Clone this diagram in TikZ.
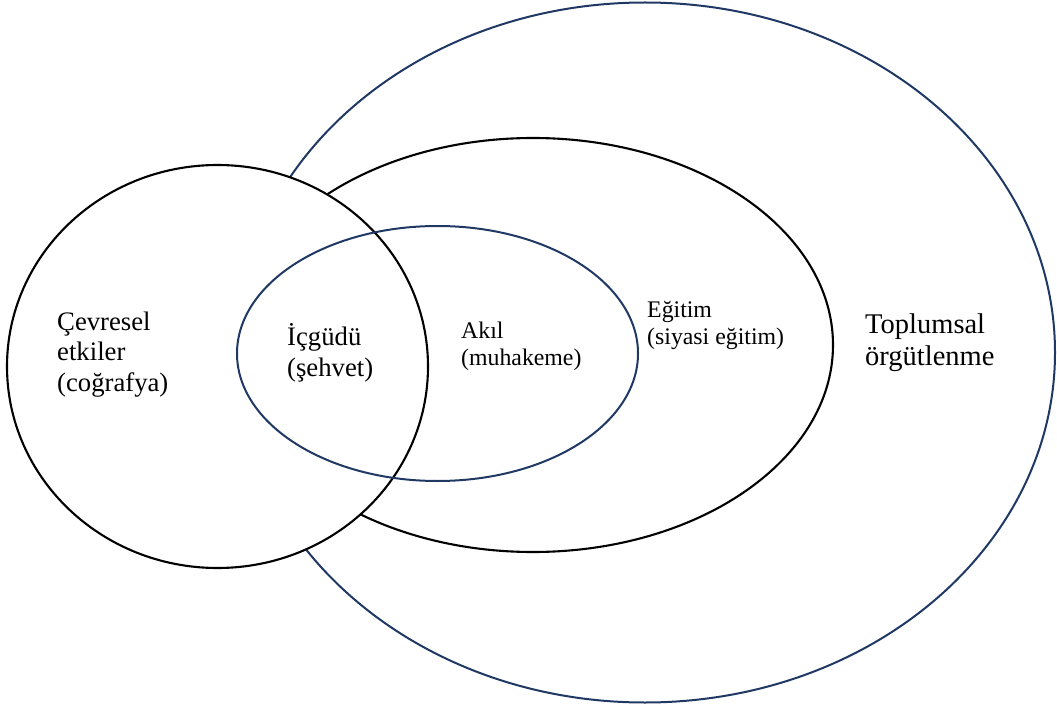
\documentclass[tikz,border=0pt]{standalone}
\usepackage{fontspec}
\setmainfont{Liberation Serif}
\definecolor{navy}{HTML}{1F3864}
\tikzset{
  navyline/.style={draw=navy, line width=2pt},
  blackline/.style={draw=black, line width=2.1pt},
  lbl/.style={anchor=base west, align=left, inner sep=0pt, text=black},
  bigfont/.style={font=\fontsize{28.5}{32}\selectfont},
  midfont/.style={font=\fontsize{26.7}{30.5}\selectfont},
  smallfont/.style={font=\fontsize{23.8}{26.5}\selectfont}
}
\begin{document}
\begin{tikzpicture}[x=1pt,y=-1pt]
\useasboundingbox (0,0) rectangle (1057,711);
% outer ellipse: Toplumsal orgutlenme
\draw[navyline] (645,352.5) ellipse [x radius=410, y radius=350];
% middle ellipse: Egitim
\draw[blackline] (533,345) ellipse [x radius=300, y radius=207];
% circle: Cevresel etkiler (covers the ellipses behind it)
\draw[blackline, fill=white] (217.5,366.5) ellipse [x radius=210.5, y radius=201.5];
% inner ellipse: Akil
\draw[navyline] (437.5,353.5) ellipse [x radius=200.5, y radius=127.5];
% labels (anchor = baseline of the last line)
\node[lbl, midfont] (cevre) at (57,391) {Çevresel\\etkiler\\(coğrafya)};
\node[lbl, midfont] (icgudu) at (287,376) {İçgüdü\\(şehvet)};
\node[lbl, smallfont] (akil) at (461,365) {Akıl\\(muhakeme)};
\node[lbl, smallfont] (egitim) at (647,344) {Eğitim\\(siyasi eğitim)};
\node[lbl, bigfont] (toplum) at (865,365) {Toplumsal\\örgütlenme};
\end{tikzpicture}
\end{document}
